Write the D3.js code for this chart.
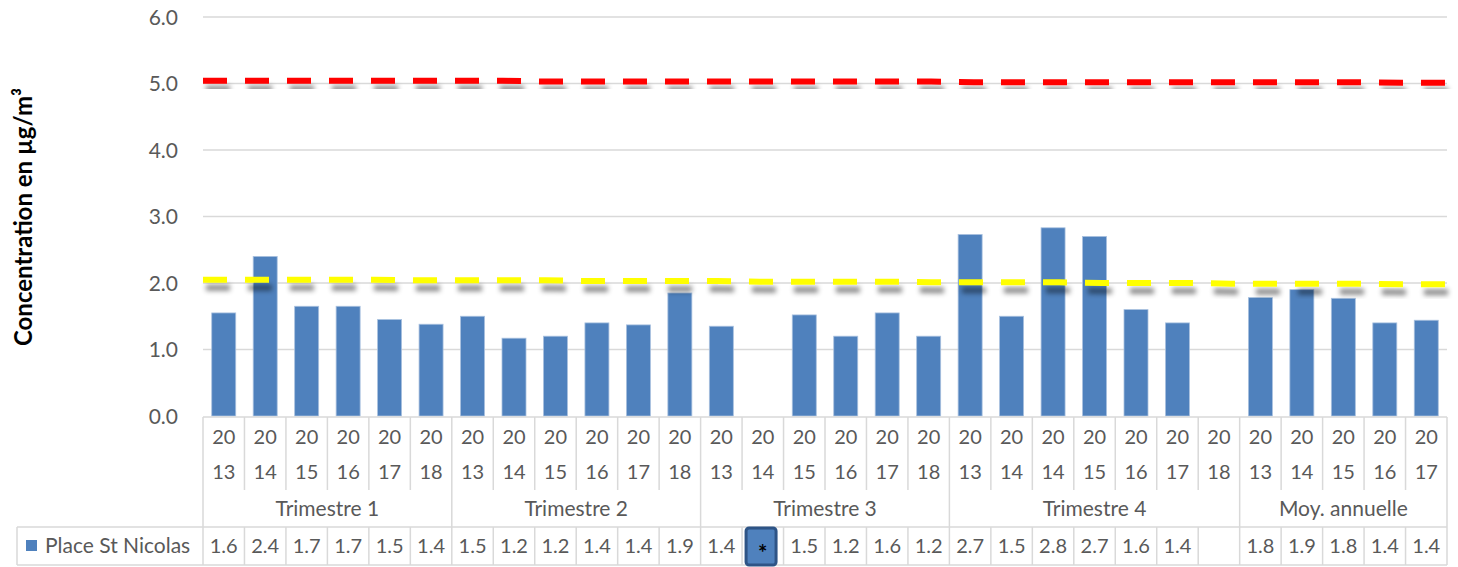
<!DOCTYPE html>
<html>
<head>
<meta charset="utf-8">
<script src="https://cdn.jsdelivr.net/npm/d3@7"></script>
<style>
  body { margin: 0; background: #fff; }
  svg { font-family: Lato, "Open Sans", sans-serif; }
</style>
</head>
<body>
<div id="chart"></div>
<script>
// categories, one per column
const groups = ['Trimestre 1', 'Trimestre 2', 'Trimestre 3', 'Trimestre 4', 'Moy. annuelle'];
const years = [
  '2013', '2014', '2015', '2016', '2017', '2018',
  '2013', '2014', '2015', '2016', '2017', '2018',
  '2013', '2014', '2015', '2016', '2017', '2018',
  '2013', '2014', '2014', '2015', '2016', '2017', '2018',
  '2013', '2014', '2015', '2016', '2017'
];
const groupOf = [
  0, 0, 0, 0, 0, 0,
  1, 1, 1, 1, 1, 1,
  2, 2, 2, 2, 2, 2,
  3, 3, 3, 3, 3, 3, 3,
  4, 4, 4, 4, 4
];
// bar heights (null = no measure)
const values = [
  1.55, 2.40, 1.65, 1.65, 1.45, 1.38,
  1.50, 1.17, 1.20, 1.40, 1.37, 1.85,
  1.35, null, 1.52, 1.20, 1.55, 1.20,
  2.73, 1.50, 2.83, 2.70, 1.60, 1.40, null,
  1.78, 1.90, 1.77, 1.40, 1.44
];
// data table labels
const tableLabels = [
  '1.6', '2.4', '1.7', '1.7', '1.5', '1.4',
  '1.5', '1.2', '1.2', '1.4', '1.4', '1.9',
  '1.4', '*', '1.5', '1.2', '1.6', '1.2',
  '2.7', '1.5', '2.8', '2.7', '1.6', '1.4', '',
  '1.8', '1.9', '1.8', '1.4', '1.4'
];
// threshold lines
const redLine = [
  5.04, 5.04, 5.04, 5.04, 5.04, 5.04, 5.04, 5.04, 5.03, 5.03,
  5.03, 5.03, 5.03, 5.03, 5.03, 5.03, 5.03, 5.03, 5.02, 5.02,
  5.02, 5.02, 5.02, 5.02, 5.02, 5.02, 5.02, 5.02, 5.01, 5.01
];
const yellowLine = [
  2.05, 2.05, 2.05, 2.05, 2.05, 2.04, 2.04, 2.04, 2.04, 2.03,
  2.03, 2.03, 2.03, 2.02, 2.02, 2.02, 2.02, 2.01, 2.01, 2.01,
  2.01, 2.00, 2.00, 2.00, 1.99, 1.99, 1.99, 1.99, 1.98, 1.98
];
const yTicks = [0, 1, 2, 3, 4, 5, 6];
const seriesName = 'Place St Nicolas';
const yTitle = 'Concentration en µg/m³';

const width = 1458, height = 567;
const plotLeft = 203, plotRight = 1447, plotTop = 17, plotBottom = 416;

const svg = d3.select('#chart').append('svg')
  .attr('width', width).attr('height', height);

const defs = svg.append('defs');
const shadow = defs.append('filter').attr('id', 'shadow')
  .attr('x', '-10%').attr('y', '-200%').attr('width', '120%').attr('height', '600%');
shadow.append('feDropShadow')
  .attr('dx', 3).attr('dy', 8).attr('stdDeviation', 2.8)
  .attr('flood-color', '#000').attr('flood-opacity', 0.45);

const idx = d3.range(years.length);
const x = d3.scaleBand().domain(idx).range([plotLeft, plotRight]).paddingInner(0).paddingOuter(0);
const xLine = d3.scalePoint().domain(idx).range([plotLeft, plotRight - 2]);
const y = d3.scaleLinear().domain([0, 6]).range([plotBottom, plotTop]);

const grey = '#d9d9d9';
const textCol = '#595959';
const fs = '20px';

// gridlines
svg.append('g').selectAll('line').data(yTicks.filter(d => d > 0)).enter().append('line')
  .attr('x1', plotLeft).attr('x2', plotRight)
  .attr('y1', d => y(d)).attr('y2', d => y(d))
  .attr('stroke', grey).attr('stroke-width', 1.5);

// y axis labels
const yAxis = svg.append('g').attr('transform', 'translate(' + (plotLeft - 22) + ',0)')
  .call(d3.axisLeft(y).tickValues(yTicks).tickFormat(d3.format('.1f')).tickSize(0));
yAxis.select('.domain').remove();
yAxis.selectAll('text').attr('fill', textCol).style('font-size', '21px')
  .style('font-family', 'Lato, sans-serif').attr('dy', '0.35em');

// y title
svg.append('text')
  .attr('transform', 'translate(32,' + 217 + ') rotate(-90)')
  .attr('text-anchor', 'middle')
  .style('font-size', '24px').style('font-weight', 'bold').attr('fill', '#000')
  .text(yTitle);

// bars
const barW = 24;
svg.append('g').selectAll('rect').data(idx.filter(i => values[i] != null)).enter().append('rect')
  .attr('x', i => x(i) + (x.bandwidth() - barW) / 2)
  .attr('width', barW)
  .attr('y', i => y(values[i]))
  .attr('height', i => y(0) - y(values[i]))
  .attr('fill', '#4f81bd')
  .attr('stroke', '#a9c1df').attr('stroke-width', 0.8);

// threshold lines
const line = d3.line().x((d, i) => xLine(i)).y(d => y(d));
[[redLine, '#ff0000'], [yellowLine, '#ffff00']].forEach(function(s) {
  svg.append('path')
    .datum(s[0])
    .attr('d', line)
    .attr('fill', 'none')
    .attr('stroke', s[1])
    .attr('stroke-width', 6)
    .attr('stroke-dasharray', '24,18')
    .attr('filter', 'url(#shadow)');
});

// data table
const table = svg.append('g');
const tTop = 417, tYearBottom = 490, tGroup = 527, tBottom = 565;
const bw = x.bandwidth();

// horizontal lines
table.append('line').attr('x1', plotLeft).attr('x2', plotRight).attr('y1', tTop).attr('y2', tTop)
  .attr('stroke', grey).attr('stroke-width', 1.5);
table.append('line').attr('x1', 17).attr('x2', plotRight).attr('y1', tGroup).attr('y2', tGroup)
  .attr('stroke', grey).attr('stroke-width', 1.5);
table.append('line').attr('x1', 17).attr('x2', plotRight).attr('y1', tBottom).attr('y2', tBottom)
  .attr('stroke', grey).attr('stroke-width', 1.5);
table.append('line').attr('x1', 17).attr('x2', 17).attr('y1', tGroup).attr('y2', tBottom)
  .attr('stroke', grey).attr('stroke-width', 1.5);

// vertical lines
idx.concat([years.length]).forEach(function(i) {
  const xx = i < years.length ? x(i) : plotRight;
  const isGroupEdge = i === 0 || i === years.length || groupOf[i] !== groupOf[i - 1];
  table.append('line')
    .attr('x1', xx).attr('x2', xx)
    .attr('y1', tTop)
    .attr('y2', isGroupEdge ? tBottom : tYearBottom)
    .attr('stroke', grey).attr('stroke-width', 1.5);
  if (!isGroupEdge) {
    table.append('line')
      .attr('x1', xx).attr('x2', xx).attr('y1', tGroup).attr('y2', tBottom)
      .attr('stroke', grey).attr('stroke-width', 1.5);
  }
});

// year labels split on two lines
table.selectAll('text.yr').data(idx).enter().append('text')
  .attr('class', 'yr')
  .attr('text-anchor', 'middle').attr('fill', textCol).style('font-size', fs)
  .each(function(i) {
    d3.select(this).append('tspan').attr('x', x(i) + bw / 2).attr('y', 444).text(years[i].slice(0, 2));
    d3.select(this).append('tspan').attr('x', x(i) + bw / 2).attr('y', 479).text(years[i].slice(2));
  });

// group labels
groups.forEach(function(g, gi) {
  const cols = idx.filter(i => groupOf[i] === gi);
  const x0 = x(cols[0]), x1 = x(cols[cols.length - 1]) + bw;
  table.append('text')
    .attr('x', (x0 + x1) / 2).attr('y', 516)
    .attr('text-anchor', 'middle').attr('fill', textCol).style('font-size', '21px')
    .text(g);
});

// legend key + series name
table.append('rect').attr('x', 26).attr('y', 540).attr('width', 11).attr('height', 11).attr('fill', '#4f81bd');
table.append('text').attr('x', 45).attr('y', 553).attr('fill', textCol).style('font-size', '21px')
  .text(seriesName);

// value cells
idx.forEach(function(i) {
  const cx = x(i) + bw / 2;
  if (tableLabels[i] === '*') {
    table.append('rect')
      .attr('x', x(i) + 4).attr('y', tGroup + 1).attr('width', 30).attr('height', 37)
      .attr('rx', 3).attr('fill', '#4f81bd')
      .attr('stroke', '#2e5486').attr('stroke-width', 3);
    table.append('text').attr('x', cx).attr('y', 561)
      .attr('text-anchor', 'middle').attr('fill', '#000')
      .style('font-size', '22px').style('font-weight', 'bold').text('*');
  } else {
    table.append('text').attr('x', cx).attr('y', 553)
      .attr('text-anchor', 'middle').attr('fill', textCol).style('font-size', fs)
      .text(tableLabels[i]);
  }
});
</script>
</body>
</html>
